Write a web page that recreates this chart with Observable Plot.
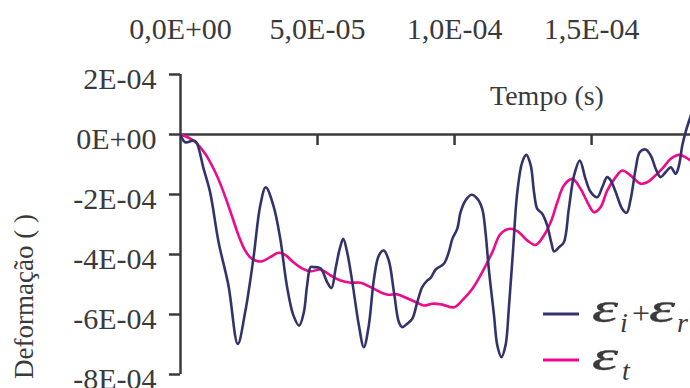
<!DOCTYPE html>
<html>
<head>
<meta charset="utf-8">
<script src="https://cdn.jsdelivr.net/npm/d3@7"></script>
<script src="https://cdn.jsdelivr.net/npm/@observablehq/plot@0.6"></script>
<style>
  html, body { margin: 0; padding: 0; background: #fff; }
  #chart { width: 690px; height: 388px; overflow: hidden; }
</style>
</head>
<body>
<div id="chart"></div>
<script>
// time in microseconds, strain in micro-units (converted to SI below)
const tSum = [0,1.7,4.7,5.8,8.4,10.8,13.9,17.5,20.9,23.6,26.6,29.1,31.1,33.9,36.4,38.8,41.2,43.3,45.0,46.2,47.5,48.7,51.1,53.5,55.1,56.6,58.1,59.4,60.8,62.7,65.1,66.9,68.7,70.6,72.4,74.2,76.0,77.9,79.7,80.9,82.7,84.6,86.4,88.2,90.0,91.3,93.1,96.1,97.9,99.2,101.0,102.2,104.0,106.2,108.3,110.1,111.3,112.5,114.4,115.6,117.1,118.6,119.8,121.3,122.9,124.7,126.2,127.8,129.0,130.2,132.0,133.8,135.4,136.3,138.1,139.9,141.7,143.6,145.7,147.8,149.7,152.1,153.9,155.7,157.0,158.8,161.2,162.8,164.3,166.1,167.6,169.7,171.6,173.4,175.2,177.0,178.9,180.7,181.9,183.1,184.3,186.2,187.5];
const epsSum = [0,-26,-20,-26,-113,-192,-359,-503,-698,-592,-413,-237,-176,-237,-347,-503,-603,-637,-593,-503,-442,-442,-446,-492,-512,-447,-381,-348,-392,-492,-637,-709,-637,-481,-403,-387,-420,-526,-626,-642,-631,-614,-559,-509,-487,-478,-450,-431,-392,-348,-314,-259,-220,-201,-214,-248,-326,-448,-603,-703,-742,-703,-581,-392,-192,-92,-68,-103,-192,-248,-264,-303,-364,-390,-376,-359,-248,-137,-87,-148,-192,-209,-176,-142,-153,-192,-248,-261,-214,-114,-59,-50,-70,-114,-142,-126,-109,-131,-103,-37,8,63,100];
const tT = [0,4.7,9.0,12.7,15.7,18.7,21.2,23.6,26.0,29.5,32.7,35.8,38.2,41.2,44.3,47.5,51.1,54.8,58.4,62.1,65.7,69.4,73.0,75.7,79.1,82.7,86.4,88.8,91.9,95.5,99.8,102.8,106.5,110.1,113.8,116.8,120.5,123.5,126.5,129.6,132.6,135.1,137.5,139.9,143.0,146.0,148.5,150.9,153.3,155.7,158.8,161.2,164.3,167.9,170.3,172.7,175.8,178.9,181.9,184.3,186.2];
const epsT = [0,-20,-64,-126,-192,-270,-337,-387,-414,-423,-409,-394,-401,-426,-446,-456,-450,-470,-487,-494,-494,-509,-526,-534,-533,-546,-561,-570,-564,-567,-576,-553,-514,-459,-392,-331,-314,-326,-353,-368,-337,-292,-226,-170,-148,-181,-226,-259,-242,-187,-142,-120,-137,-164,-159,-142,-114,-81,-68,-76,-87];

const xTicks = [0, 5e-5, 1e-4, 1.5e-4];
const xTickLabels = ["0,0E+00", "5,0E-05", "1,0E-04", "1,5E-04"];
const yTicks = [2e-4, 0, -2e-4, -4e-4, -6e-4, -8e-4];
const yTickLabels = ["2E-04", "0E+00", "-2E-04", "-4E-04", "-6E-04", "-8E-04"];
const seriesNames = ["εi+εr", "εt"];
const xTitle = "Tempo (s)";
const yTitle = "Deformação ( )";

const sumData = tSum.map((t, i) => ({t: t * 1e-6, e: epsSum[i] * 1e-6, s: seriesNames[0]}));
const tData = tT.map((t, i) => ({t: t * 1e-6, e: epsT[i] * 1e-6, s: seriesNames[1]}));

const NAVY = "#33336b";
const MAGENTA = "#ee0a8a";
const AXIS = "#3a3a3a";
const FONT = "Liberation Serif, Times New Roman, serif";

const chart = Plot.plot({
  width: 690,
  height: 388,
  marginLeft: 180,
  marginRight: 0,
  marginTop: 74,
  marginBottom: 14,
  x: {domain: [0, 1.861e-4]},
  y: {domain: [-8e-4, 2e-4]},
  style: {fontFamily: FONT, fontSize: "30px", color: AXIS, background: "white"},
  marks: [
    Plot.axisX(xTicks, {anchor: "top", tickSize: 0, tickPadding: 36, label: null, fontFamily: FONT,
      tickFormat: d => xTickLabels[xTicks.indexOf(d)]}),
    Plot.axisY(yTicks, {anchor: "left", tickSize: 0, tickPadding: 24, dy: 5, label: null, fontFamily: FONT,
      tickFormat: d => yTickLabels[yTicks.indexOf(d)]}),
    Plot.ruleY(yTicks, {y: d => d, x1: d => 0, x2: d => 0, insetLeft: -11, stroke: AXIS, strokeWidth: 2.5}),
    Plot.ruleX(xTicks.slice(1), {x: d => d, y1: d => 0, y2: d => 0, insetBottom: -11, stroke: AXIS, strokeWidth: 2.5}),
    Plot.ruleX([0], {stroke: AXIS, strokeWidth: 2.5}),
    Plot.ruleY([0], {stroke: AXIS, strokeWidth: 2.5}),
    Plot.line(tData, {x: "t", y: "e", stroke: MAGENTA, strokeWidth: 2.6, curve: "catmull-rom", clip: true}),
    Plot.line(sumData, {x: "t", y: "e", stroke: NAVY, strokeWidth: 2.6, curve: "catmull-rom", clip: true})
  ]
});

const svg = d3.select(chart);
const txt = (x, y, s, size, italic, anchor) => svg.append("text")
  .attr("x", x).attr("y", y).attr("text-anchor", anchor || "start")
  .style("font-family", FONT).style("font-size", size + "px")
  .style("font-style", italic ? "italic" : "normal").attr("fill", AXIS).text(s);
// axis titles
txt(547, 105, xTitle, 28, false, "middle");
svg.append("text").attr("transform", "translate(33,214) rotate(-90)").attr("text-anchor", "end")
  .style("font-family", FONT).style("font-size", "27px").attr("fill", AXIS).text(yTitle);
// legend
svg.append("line").attr("x1", 543).attr("x2", 579).attr("y1", 314).attr("y2", 314).attr("stroke", NAVY).attr("stroke-width", 3);
svg.append("line").attr("x1", 543).attr("x2", 579).attr("y1", 360).attr("y2", 360).attr("stroke", MAGENTA).attr("stroke-width", 3);
const eps = (x, y) => txt(x, y, "ε", 42, true)
  .attr("textLength", 26).attr("lengthAdjust", "spacingAndGlyphs")
  .attr("stroke", AXIS).attr("stroke-width", 0.4);
eps(592, 322);
txt(620, 332, "i", 28, true);
txt(632, 324, "+", 32, false);
eps(649, 322);
txt(677, 332, "r", 28, true);
eps(592, 370);
txt(622, 380, "t", 28, true);

document.getElementById("chart").appendChild(chart);
</script>
</body>
</html>
